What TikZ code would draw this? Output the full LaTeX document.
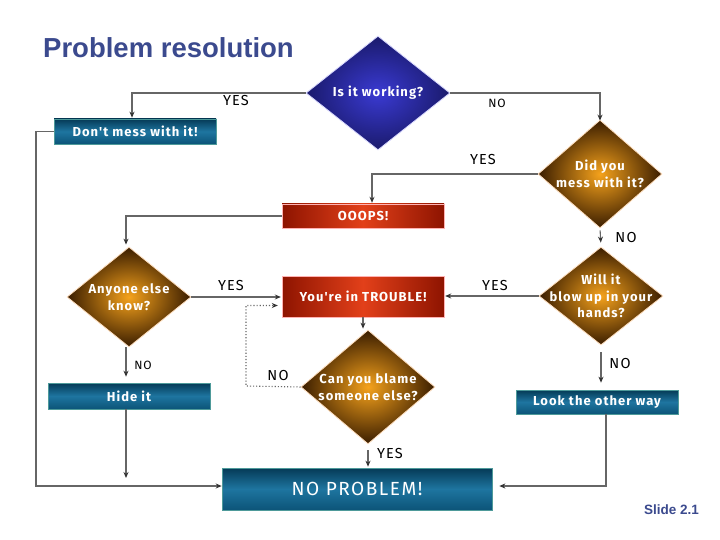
\documentclass[tikz,border=0pt]{standalone}
\usepackage{fontspec}
\setmainfont{Liberation Sans}
\newfontfamily\comic[LetterSpace=8]{Fira Sans}
\usetikzlibrary{shapes.geometric,arrows.meta}
\definecolor{titleblue}{HTML}{3B4A8E}
\definecolor{linegray}{HTML}{666666}
\definecolor{tealdark}{HTML}{053A56}
\definecolor{tealmid}{HTML}{1E75A0}
\definecolor{tealbot}{HTML}{0C5478}
\definecolor{tealedge}{HTML}{4E9A9A}
\definecolor{reddark}{HTML}{8E1400}
\definecolor{redmid}{HTML}{E2401A}
\definecolor{orin}{HTML}{F5A21C}
\definecolor{orout}{HTML}{3A1D00}
\definecolor{bluein}{HTML}{3A3AD2}
\definecolor{blueout}{HTML}{1A1A6C}
\tikzset{
  dia/.style={diamond, inner sep=0pt, shading=radial, inner color=orin, outer color=orout, draw=orange!25, line width=0.8pt},
  diat/.style={text=white, font=\comic\bfseries\fontsize{13}{16.5}\selectfont, align=center, inner sep=0pt},
  tealbox/.style={rectangle, inner sep=0pt, minimum width=162pt, top color=tealdark, bottom color=tealbot, middle color=tealmid, draw=tealedge, line width=0.6pt, text=white, font=\comic\bfseries\fontsize{13}{15}\selectfont},
  redbox/.style={rectangle, inner sep=0pt, minimum width=162pt, left color=reddark, right color=reddark, middle color=redmid, draw=red!30, line width=0.4pt, text=white, font=\comic\bfseries\fontsize{13}{15}\selectfont},
  arr/.style={draw=linegray, line width=1.1pt, -{Stealth[length=6pt,width=5pt,color=black!80]}},
  dotarr/.style={draw=linegray, line width=1.1pt, dotted, -{Stealth[length=6pt,width=5pt,color=black!80]}},
  lbl/.style={font=\comic\fontsize{14.5}{16}\selectfont, text=black, inner sep=0pt},
  slbl/.style={font=\comic\fontsize{12}{14}\selectfont, text=black, inner sep=0pt}
}
\begin{document}
\begin{tikzpicture}[x=1pt,y=-1pt]
\useasboundingbox (0,0) rectangle (720,540);
\fill[white] (0,0) rectangle (720,540);

% title
\node[font=\bfseries\fontsize{27.5}{32}\selectfont, text=titleblue, anchor=west, inner sep=0pt] (title) at (43,48) {Problem resolution};
\node[font=\bfseries\fontsize{13.5}{15}\selectfont, text=titleblue, anchor=east, inner sep=0pt] (slide) at (699,510) {Slide 2.1};

% diamonds
\node[dia, inner color=bluein, outer color=blueout, draw=blue!15, minimum width=144pt, minimum height=114pt] (d1) at (378,93) {};
\node[diat] (t1) at (d1.center) {Is it working?};
\node[dia, minimum width=124pt, minimum height=108pt] (d2) at (600,174) {};
\node[diat] (t2) at (d2.center) {Did you\\mess with it?};
\node[dia, minimum width=124pt, minimum height=98pt] (d3) at (601,296) {};
\node[diat] (t3) at (d3.center) {Will it\\blow up in your\\hands?};
\node[dia, minimum width=124pt, minimum height=100pt] (d4) at (129,297) {};
\node[diat] (t4) at (d4.center) {Anyone else\\know?};
\node[dia, minimum width=134pt, minimum height=114pt] (d5) at (368,387) {};
\node[diat] (t5) at (d5.center) {Can you blame\\someone else?};

% boxes
\node[tealbox, minimum height=25pt] (b1) at (135,131.5) {Don't mess with it!};
\node[redbox, minimum height=24pt] (b2) at (363,216) {OOOPS!};
\node[redbox, minimum height=41pt] (b3) at (363,296.5) {You're in TROUBLE!};
\node[tealbox, minimum height=26pt] (b4) at (129,396) {Hide it};
\node[tealbox, minimum width=270pt, minimum height=42pt, font=\comic\fontsize{19}{21}\selectfont] (b5) at (357,489) {NO PROBLEM!};
\node[tealbox, minimum height=24pt] (b6) at (597,402) {Look the other way};

% helper coordinates
\coordinate (c1) at (36,486);
\coordinate (c2) at (246,386);
\coordinate (c3) at (126,478);
\coordinate (c4) at (606,486);

% connectors
\draw[arr, shorten >=1pt] (d1.west) -| ([xshift=-3pt]b1.north);
\draw[arr] (d1.east) -| ([yshift=-1pt]d2.north);
\draw[arr, shorten >=1pt] (d2.west) -| ([xshift=9pt]b2.north);
\draw[arr, shorten >=2pt] (b2.west) -| ([xshift=-3pt]d4.north);
\draw[arr, shorten <=2pt, shorten >=4pt] (d2.south) -- (d3.north);
\draw[arr, shorten >=1pt] (d3.west) -- (d3.west -| b3.east);
\draw[arr, shorten >=1pt] (d4.east) -- (d4.east -| b3.west);
\draw[arr, shorten >=6pt] ([xshift=-3pt]d4.south) -- ([xshift=-3pt]b4.north);
\draw[arr] ([xshift=-3pt]b4.south) -- (c3);
\draw[arr] (b1.west) -| (c1) -- (c1 -| b5.west);
\draw[arr, shorten >=1pt] (b3.south) -- (b3.south |- d5.north);
\draw[dotarr, shorten >=4pt] (d5.west) -- (c2) |- ([yshift=-9pt]b3.west);
\draw[arr, shorten <=6pt, shorten >=1pt] (d5.south) -- (b5.north -| d5.south);
\draw[arr, shorten <=7pt, shorten >=7pt] (d3.south) -- (d3.south |- b6.north);
\draw[arr, shorten >=7pt] ([xshift=9pt]b6.south) |- (b5.east |- c4);

% labels
\node[lbl] (l1) at (236,101) {YES};
\node[slbl] (l2) at (497,103) {NO};
\node[lbl] (l3) at (483,160) {YES};
\node[lbl] (l4) at (626,238) {NO};
\node[lbl] (l5) at (231,286) {YES};
\node[lbl] (l6) at (495,286) {YES};
\node[slbl] (l7) at (143,365) {NO};
\node[lbl] (l8) at (278,376) {NO};
\node[lbl] (l9) at (620,364) {NO};
\node[lbl] (l10) at (390,454) {YES};
\end{tikzpicture}
\end{document}
